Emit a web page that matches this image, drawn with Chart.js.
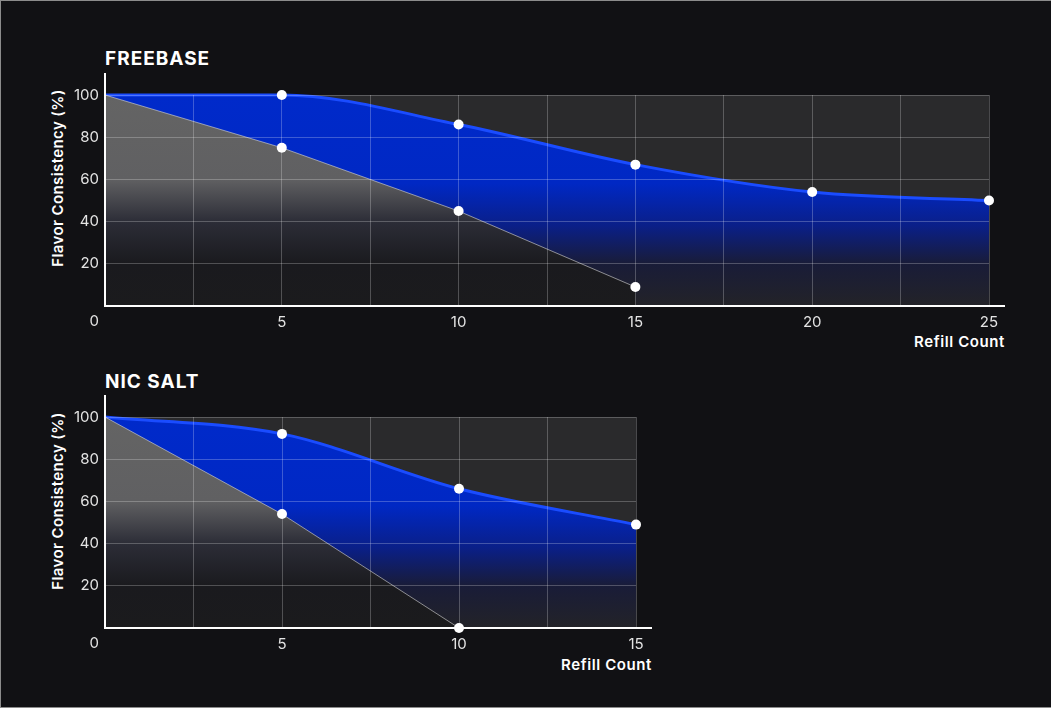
<!DOCTYPE html>
<html>
<head>
<meta charset="utf-8">
<script src="https://cdn.jsdelivr.net/npm/chart.js@4.4.1/dist/chart.umd.min.js"></script>
<style>
  html, body { margin: 0; padding: 0; background: #111114; }
  #frame {
    position: relative; width: 1051px; height: 708px; overflow: hidden;
    box-shadow: inset 1px 1px 0 #8c8c8c, inset 0 -1px 0 #8c8c8c;
    font-family: Inter, "Noto Sans", sans-serif; color: #fff;
  }
  .title { position: absolute; left: 105px; font-weight: 700; font-size: 19px; letter-spacing: 1px;
           transform: translateY(-50%); }
  .ytitle { position: absolute; font-weight: 600; font-size: 15px; letter-spacing: 0.4px; white-space: nowrap;
            transform: translate(-50%, -50%) rotate(-90deg); }
  .xtitle { position: absolute; font-weight: 600; font-size: 15px; letter-spacing: 0.6px; white-space: nowrap;
            transform: translate(-100%, -50%); }
  .box { position: absolute; left: 0; width: 1051px; height: 270px; }
</style>
</head>
<body>
<div id="frame">
  <div class="title" style="top:58px">FREEBASE</div>
  <div class="ytitle" style="left:57px; top:178px">Flavor Consistency (%)</div>
  <div class="xtitle" style="left:1005px; top:341px">Refill Count</div>
  <div class="box" style="top:60px"><canvas id="freebase"></canvas></div>

  <div class="title" style="top:381px">NIC SALT</div>
  <div class="ytitle" style="left:57px; top:501px">Flavor Consistency (%)</div>
  <div class="xtitle" style="left:652px; top:664px">Refill Count</div>
  <div class="box" style="top:382px"><canvas id="nicsalt"></canvas></div>
</div>

<script>
"use strict"

// freebase
const freebaseRefills = [0, 5, 10, 15, 20, 25];
const freebaseTop = [100, 100, 86, 67, 54, 50];
const freebaseLowRefills = [0, 5, 10, 15];
const freebaseLow = [100, 75, 45, 9];

// nic salt
const nicRefills = [0, 5, 10, 15];
const nicTop = [100, 92, 66, 49];
const nicLowRefills = [0, 5, 10];
const nicLow = [100, 54, 0];

const yTicks = [20, 40, 60, 80, 100];
const tickFont = { family: 'Inter', size: 15 };
const tickColor = '#e4e4e4';
const gridColor = 'rgba(255,255,255,0.24)';

function pairs(xs, ys) {
  return xs.map((x, i) => ({ x: x, y: ys[i] }));
}

function blueFill(c) {
  const a = c.chart.chartArea;
  if (!a) return '#0029c9';
  const g = c.chart.ctx.createLinearGradient(0, a.top, 0, a.bottom);
  g.addColorStop(0, '#002aca');
  g.addColorStop(0.42, '#0028c4');
  g.addColorStop(0.62, '#0a1f88');
  g.addColorStop(0.8, '#191c38');
  g.addColorStop(1, '#232328');
  return g;
}

function grayFill(c) {
  const a = c.chart.chartArea;
  if (!a) return '#656565';
  const g = c.chart.ctx.createLinearGradient(0, a.top, 0, a.bottom);
  g.addColorStop(0, '#646464');
  g.addColorStop(0.4, '#606062');
  g.addColorStop(0.6, '#2c2d37');
  g.addColorStop(0.8, '#1a1a1e');
  g.addColorStop(1, '#1b1b1d');
  return g;
}

// plot background, extended white axes and the shared "0" at the origin
const axesPlugin = {
  id: 'axesPlugin',
  beforeDraw(chart) {
    const { ctx, chartArea: a } = chart;
    ctx.save();
    ctx.fillStyle = '#2a2a2c';
    ctx.fillRect(a.left, a.top, a.right - a.left, a.bottom - a.top);
    ctx.restore();
  },
  afterDraw(chart) {
    const { ctx, chartArea: a } = chart;
    ctx.save();
    ctx.strokeStyle = '#ffffff';
    ctx.lineWidth = 2;
    ctx.beginPath();
    ctx.moveTo(a.left, a.top - 22);
    ctx.lineTo(a.left, a.bottom);
    ctx.lineTo(a.right + 16, a.bottom);
    ctx.stroke();
    ctx.fillStyle = tickColor;
    ctx.font = '15px Inter';
    ctx.textAlign = 'right';
    ctx.textBaseline = 'middle';
    ctx.fillText('0', a.left - 6, a.bottom + 15);
    ctx.restore();
  }
};

function makeChart(id, topX, topY, lowX, lowY, xMax, rightPad) {
  return new Chart(document.getElementById(id), {
    type: 'line',
    data: {
      datasets: [
        {
          data: pairs(lowX, lowY),
          borderColor: 'rgba(215,215,215,0.6)',
          borderWidth: 1,
          backgroundColor: grayFill,
          fill: 'origin',
          tension: 0,
          pointRadius: c => (c.raw && c.raw.x === 0 ? 0 : 5),
          pointBackgroundColor: '#ffffff',
          pointBorderWidth: 0,
          clip: false
        },
        {
          data: pairs(topX, topY),
          borderColor: '#1a4cff',
          borderWidth: 3,
          backgroundColor: blueFill,
          fill: 'origin',
          cubicInterpolationMode: 'monotone',
          pointRadius: c => (c.raw && c.raw.x === 0 ? 0 : 5),
          pointBackgroundColor: '#ffffff',
          pointBorderWidth: 0,
          clip: false
        }
      ]
    },
    options: {
      responsive: true,
      maintainAspectRatio: false,
      animation: false,
      events: [],
      layout: { padding: { top: 35, right: rightPad, left: 0, bottom: 0 } },
      plugins: { legend: { display: false }, tooltip: { enabled: false } },
      scales: {
        x: {
          type: 'linear', min: 0, max: xMax,
          afterFit: s => { s.height = 24; },
          border: { display: false },
          grid: { color: gridColor, lineWidth: 1, drawTicks: false, z: 1 },
          ticks: {
            stepSize: 2.5, autoSkip: false, maxRotation: 0, padding: 7,
            color: tickColor, font: tickFont,
            callback: v => (v % 5 === 0 && v !== 0 ? v : '')
          }
        },
        y: {
          type: 'linear', min: 0, max: 100,
          afterFit: s => { s.width = 105; },
          afterBuildTicks: s => { s.ticks = [0].concat(yTicks).map(v => ({ value: v })); },
          border: { display: false },
          grid: { color: gridColor, lineWidth: 1, drawTicks: false, z: 1 },
          ticks: {
            padding: 6, color: tickColor, font: tickFont,
            callback: v => (v === 0 ? '' : v)
          }
        }
      }
    },
    plugins: [axesPlugin]
  });
}

makeChart('freebase', freebaseRefills, freebaseTop, freebaseLowRefills, freebaseLow, 25, 62);
makeChart('nicsalt', nicRefills, nicTop, nicLowRefills, nicLow, 15, 415);
</script>
</body>
</html>
